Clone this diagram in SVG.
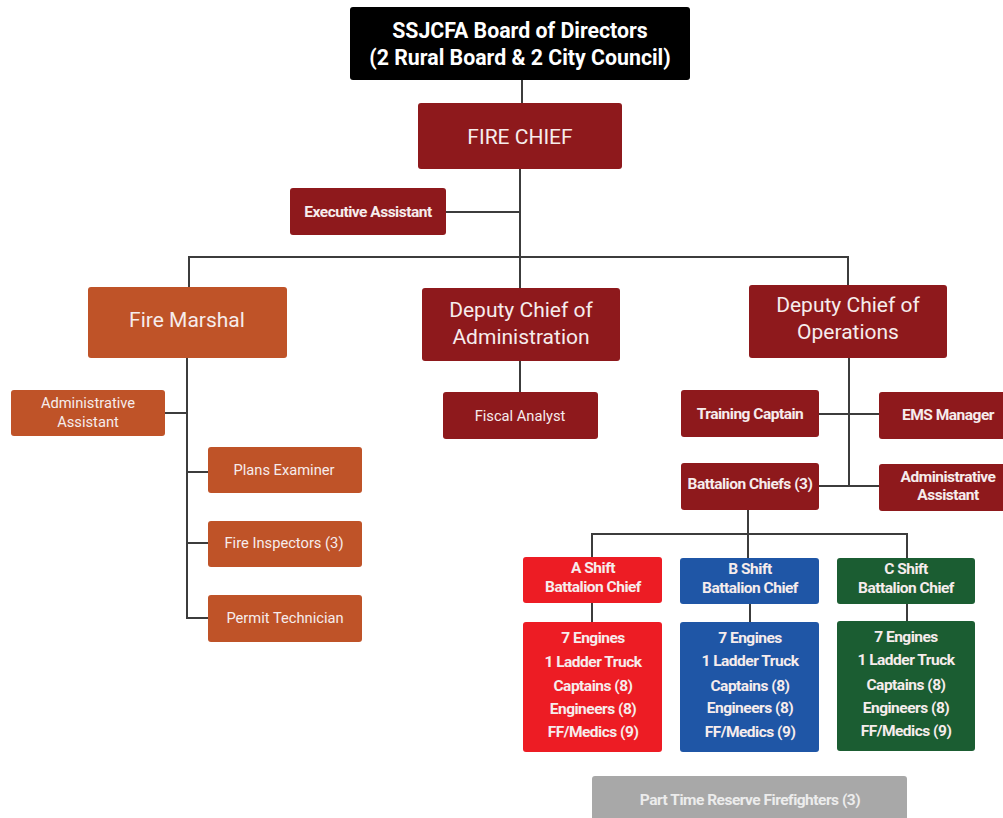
<svg xmlns="http://www.w3.org/2000/svg" width="1003" height="818" viewBox="0 0 1003 818">
<style>
.bg{fill:#ffffff}
.blk{fill:#000000}
.red{fill:#8e191c}
.org{fill:#bf5328}
.ra{fill:#ed1c24}
.bb{fill:#1f56a6}
.cg{fill:#1b5d32}
.gr{fill:#a8a8a8}
text{font-family:Roboto,"Liberation Sans",sans-serif;fill:#f6ecec;text-anchor:middle;dominant-baseline:central}
.big{font-size:21px}
.sn{font-size:14.7px}
.sb{font-size:15.5px;font-weight:bold;letter-spacing:-0.5px}
.ttl{font-size:21.3px;font-weight:bold;fill:#ffffff}
.con{stroke:#3c3c3c;stroke-width:2;fill:none}
</style>
<rect class="bg" x="0" y="0" width="1003" height="818"/>
<g id="connectors">
<path class="con" d="M522 80V103"/>
<path class="con" d="M520 169V288"/>
<path class="con" d="M446 212H520"/>
<path class="con" d="M189 287V257H848V285"/>
<path class="con" d="M520 361V392"/>
<path class="con" d="M187 358V618H208"/>
<path class="con" d="M165 413H187"/>
<path class="con" d="M187 472H208"/>
<path class="con" d="M187 543H208"/>
<path class="con" d="M849 358V486"/>
<path class="con" d="M819 414H879"/>
<path class="con" d="M819 486H879"/>
<path class="con" d="M748 510V534"/>
<path class="con" d="M592 557V534H907V558"/>
<path class="con" d="M748 534V558"/>
<path class="con" d="M592 603V622"/>
<path class="con" d="M750 604V622"/>
<path class="con" d="M907 604V621"/>
</g>
<g id="board"><rect class="blk" x="350" y="7" width="340" height="73" rx="3"/>
<text class="ttl" x="520" y="30">SSJCFA Board of Directors</text>
<text class="ttl" x="520" y="57">(2 Rural Board &amp; 2 City Council)</text></g>
<g id="fire-chief"><rect class="red" x="418" y="103" width="204" height="66" rx="3"/>
<text class="big" x="520" y="137">FIRE CHIEF</text></g>
<g id="exec-assistant"><rect class="red" x="290" y="188" width="156" height="47" rx="3"/>
<text class="sb" x="368" y="212">Executive Assistant</text></g>
<g id="fire-marshal"><rect class="org" x="88" y="287" width="199" height="71" rx="3"/>
<text class="big" x="187" y="320">Fire Marshal</text></g>
<g id="deputy-admin"><rect class="red" x="422" y="288" width="198" height="73" rx="3"/>
<text class="big" x="521" y="310">Deputy Chief of</text>
<text class="big" x="521" y="337">Administration</text></g>
<g id="deputy-ops"><rect class="red" x="749" y="285" width="198" height="73" rx="3"/>
<text class="big" x="848" y="305">Deputy Chief of</text>
<text class="big" x="848" y="332">Operations</text></g>
<g id="fm-admin-assistant"><rect class="org" x="11" y="390" width="154" height="46" rx="3"/>
<text class="sn" x="88" y="403">Administrative</text>
<text class="sn" x="88" y="422">Assistant</text></g>
<g id="plans-examiner"><rect class="org" x="208" y="447" width="154" height="46" rx="3"/>
<text class="sn" x="284" y="470">Plans Examiner</text></g>
<g id="fire-inspectors"><rect class="org" x="208" y="521" width="154" height="46" rx="3"/>
<text class="sn" x="284" y="543">Fire Inspectors (3)</text></g>
<g id="permit-technician"><rect class="org" x="208" y="595" width="154" height="47" rx="3"/>
<text class="sn" x="285" y="618">Permit Technician</text></g>
<g id="fiscal-analyst"><rect class="red" x="443" y="392" width="155" height="47" rx="3"/>
<text class="sn" x="520" y="416">Fiscal Analyst</text></g>
<g id="training-captain"><rect class="red" x="681" y="390" width="138" height="47" rx="3"/>
<text class="sb" x="750" y="414">Training Captain</text></g>
<g id="ems-manager"><rect class="red" x="879" y="392" width="130" height="47" rx="3"/>
<text class="sb" x="948" y="415">EMS Manager</text></g>
<g id="battalion-chiefs"><rect class="red" x="681" y="463" width="138" height="47" rx="3"/>
<text class="sb" x="750" y="484">Battalion Chiefs (3)</text></g>
<g id="ops-admin-assistant"><rect class="red" x="879" y="464" width="130" height="47" rx="3"/>
<text class="sb" x="948" y="477">Administrative</text>
<text class="sb" x="948" y="495">Assistant</text></g>
<g id="a-shift"><rect class="ra" x="523" y="557" width="139" height="46" rx="3"/>
<text class="sb" x="593" y="568">A Shift</text>
<text class="sb" x="593" y="587">Battalion Chief</text></g>
<g id="b-shift"><rect class="bb" x="680" y="558" width="139" height="46" rx="3"/>
<text class="sb" x="750" y="569">B Shift</text>
<text class="sb" x="750" y="588">Battalion Chief</text></g>
<g id="c-shift"><rect class="cg" x="837" y="558" width="138" height="46" rx="3"/>
<text class="sb" x="906" y="569">C Shift</text>
<text class="sb" x="906" y="588">Battalion Chief</text></g>
<g id="a-shift-crew"><rect class="ra" x="523" y="622" width="139" height="130" rx="3"/>
<text class="sb" x="593" y="638">7 Engines</text>
<text class="sb" x="593" y="662">1 Ladder Truck</text>
<text class="sb" x="593" y="686">Captains (8)</text>
<text class="sb" x="593" y="709">Engineers (8)</text>
<text class="sb" x="593" y="732">FF/Medics (9)</text></g>
<g id="b-shift-crew"><rect class="bb" x="680" y="622" width="139" height="130" rx="3"/>
<text class="sb" x="750" y="638">7 Engines</text>
<text class="sb" x="750" y="661">1 Ladder Truck</text>
<text class="sb" x="750" y="686">Captains (8)</text>
<text class="sb" x="750" y="708">Engineers (8)</text>
<text class="sb" x="750" y="732">FF/Medics (9)</text></g>
<g id="c-shift-crew"><rect class="cg" x="837" y="621" width="138" height="130" rx="3"/>
<text class="sb" x="906" y="637">7 Engines</text>
<text class="sb" x="906" y="660">1 Ladder Truck</text>
<text class="sb" x="906" y="685">Captains (8)</text>
<text class="sb" x="906" y="708">Engineers (8)</text>
<text class="sb" x="906" y="731">FF/Medics (9)</text></g>
<g id="part-time-reserve"><rect class="gr" x="592" y="776" width="315" height="50" rx="3"/>
<text class="sb" x="750" y="800" style="fill:#ececec">Part Time Reserve Firefighters (3)</text></g>
</svg>
